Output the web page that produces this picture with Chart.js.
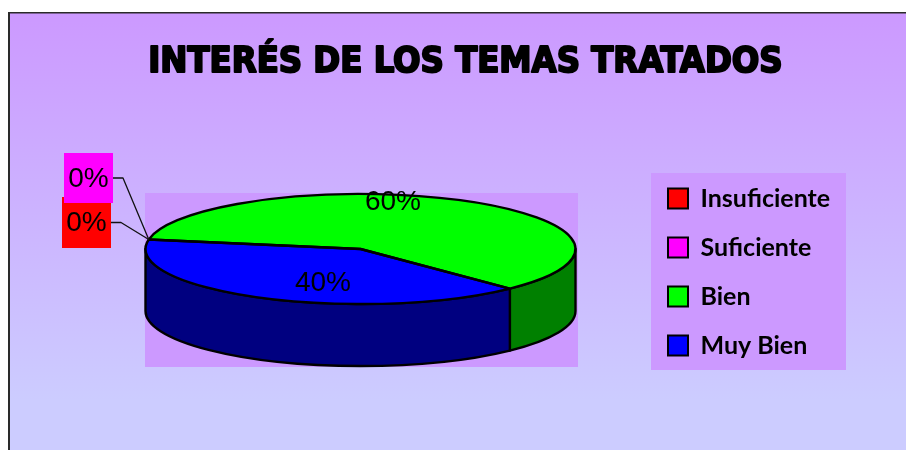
<!DOCTYPE html>
<html>
<head>
<meta charset="utf-8">
<title>Interés de los temas tratados</title>
<script src="https://cdn.jsdelivr.net/npm/chart.js@4"></script>
<style>
  html, body { margin: 0; padding: 0; background: #fff; overflow: hidden; }
  #wrap { position: absolute; left: 0; top: 0; width: 906px; height: 450px; }
</style>
</head>
<body>
<div id="wrap"><canvas id="chart" width="906" height="450"></canvas></div>
<script>
// Data
const titleText = 'INTERÉS DE LOS TEMAS TRATADOS';
const categories = ['Insuficiente', 'Suficiente', 'Bien', 'Muy Bien'];
const values = [0, 0, 60, 40];
const topColors = ['#ff0000', '#ff00ff', '#00ff00', '#0000ff'];
const sideColors = ['#800000', '#800080', '#008000', '#000080'];

// Layout of the old spreadsheet-style frame
const frame = { left: 9, top: 13 };
const plotBox = { left: 145, top: 193, right: 578, bottom: 367 };
const legendBox = { left: 651, top: 173, right: 846, bottom: 370 };
const PIE_RADIUS = 215;
const SQUASH = 55 / 215;
const DEPTH = 62;
const OUTLINE = 2.4;
const labelFont = '28px "Liberation Sans", Arial, sans-serif';
const titleFont = { family: '"DejaVu Sans Condensed", "DejaVu Sans"', size: 36, weight: 'bold' };

// where the % labels sit, per slice
const zeroTags = {
    0: { left: 62, top: 197, w: 49, h: 51, elbow: 121 },
    1: { left: 64, top: 153, w: 49, h: 50, elbow: 123 }
};
const bigLabels = { 2: { x: 393, y: 202 }, 3: { x: 323, y: 283 } };

function sideWall(ctx, arc, color) {
    const rx = arc.outerRadius, ry = rx * SQUASH;
    const cy = arc.y - DEPTH / 2;
    // only the part facing the viewer (0..PI on the canvas) shows
    for (let k = -1; k <= 2; k++) {
        const a = Math.max(arc.startAngle, k * 2 * Math.PI);
        const b = Math.min(arc.endAngle, k * 2 * Math.PI + Math.PI);
        if (a >= b) continue;
        ctx.beginPath();
        ctx.ellipse(arc.x, cy, rx, ry, 0, a, b);
        ctx.ellipse(arc.x, cy + DEPTH, rx, ry, 0, b, a, true);
        ctx.closePath();
        ctx.fillStyle = color;
        ctx.fill();
        ctx.stroke();
    }
}

const pie3d = {
    id: 'pie3d',
    afterLayout(chart) {
        // chart area follows the plot box, pie sits 1px left of its middle
        chart.chartArea = {
            left: plotBox.left - 1, top: plotBox.top, right: plotBox.right - 1, bottom: plotBox.bottom,
            width: plotBox.right - plotBox.left, height: plotBox.bottom - plotBox.top
        };
        const legend = chart.legend;
        const pad = legend.options.labels.padding;
        const w = legend.width, h = legend.height;
        legend.left = 668 - pad;
        legend.right = legend.left + w;
        legend.top = 186 - pad;
        legend.bottom = legend.top + h;
        const t = chart.titleBlock;
        t.left = 0;
        t.right = 931;
        t.top = 41;
        t.bottom = t.top + t.height;
    },
    beforeDraw(chart) {
        const ctx = chart.ctx;
        const grad = ctx.createLinearGradient(0, frame.top, 0, 400);
        grad.addColorStop(0, '#cc99ff');
        grad.addColorStop(1, '#ccccff');
        ctx.save();
        ctx.fillStyle = grad;
        ctx.fillRect(frame.left, frame.top, chart.width - frame.left, chart.height - frame.top);
        ctx.fillStyle = '#2a2a2a';
        ctx.fillRect(frame.left - 1, frame.top - 1, 2, chart.height);
        ctx.fillRect(frame.left - 1, frame.top - 1, chart.width, 1.5);
        ctx.fillStyle = '#cc99ff';
        ctx.fillRect(plotBox.left, plotBox.top, plotBox.right - plotBox.left, plotBox.bottom - plotBox.top);
        ctx.fillRect(legendBox.left, legendBox.top, legendBox.right - legendBox.left, legendBox.bottom - legendBox.top);
        ctx.restore();
    },
    beforeDatasetsDraw(chart) {
        const ctx = chart.ctx;
        const arcs = chart.getDatasetMeta(0).data;
        ctx.save();
        // fatten the title, the original face is much heavier
        const t = chart.titleBlock;
        ctx.font = `${titleFont.weight} ${titleFont.size}px ${titleFont.family}`;
        ctx.textAlign = 'center';
        ctx.textBaseline = 'middle';
        ctx.strokeStyle = '#000';
        ctx.lineWidth = 2;
        ctx.lineJoin = 'round';
        ctx.strokeText(titleText, (t.left + t.right) / 2, t.top + titleFont.size * 0.6);

        ctx.lineWidth = OUTLINE;
        arcs.forEach((arc, i) => sideWall(ctx, arc, sideColors[i]));
        ctx.restore();
    },
    beforeDatasetDraw(chart) {
        const ctx = chart.ctx;
        const arc = chart.getDatasetMeta(0).data[0];
        ctx.save();
        ctx.translate(arc.x, arc.y - DEPTH / 2);
        ctx.scale(1, SQUASH);
        ctx.translate(-arc.x, -arc.y);
    },
    afterDatasetDraw(chart) {
        chart.ctx.restore();
    },
    afterDatasetsDraw(chart) {
        const ctx = chart.ctx;
        const arcs = chart.getDatasetMeta(0).data;
        const total = values.reduce((a, b) => a + b, 0);
        ctx.save();
        ctx.strokeStyle = '#000';
        ctx.lineWidth = OUTLINE;
        ctx.lineJoin = 'round';
        arcs.forEach((arc) => {
            if (arc.endAngle - arc.startAngle <= 0) return;
            const rx = arc.outerRadius, cy = arc.y - DEPTH / 2;
            ctx.beginPath();
            ctx.moveTo(arc.x, cy);
            ctx.ellipse(arc.x, cy, rx, rx * SQUASH, 0, arc.startAngle, arc.endAngle);
            ctx.closePath();
            ctx.stroke();
        });

        ctx.font = labelFont;
        ctx.textAlign = 'center';
        ctx.textBaseline = 'middle';
        // leader lines for the empty slices
        ctx.strokeStyle = '#111';
        ctx.lineWidth = 1.3;
        values.forEach((v, i) => {
            const tag = zeroTags[i];
            if (!tag) return;
            const arc = arcs[i];
            const tipX = arc.x + arc.outerRadius * Math.cos(arc.startAngle);
            const tipY = arc.y - DEPTH / 2 + arc.outerRadius * SQUASH * Math.sin(arc.startAngle);
            const midY = tag.top + tag.h / 2;
            ctx.beginPath();
            ctx.moveTo(tag.left + tag.w, midY);
            ctx.lineTo(tag.elbow, midY);
            ctx.lineTo(tipX, tipY);
            ctx.stroke();
        });
        // tags go on top of each other, red first
        values.forEach((v, i) => {
            const text = Math.round(v / total * 100) + '%';
            const tag = zeroTags[i];
            if (tag) {
                ctx.fillStyle = topColors[i];
                ctx.fillRect(tag.left, tag.top, tag.w, tag.h);
                ctx.fillStyle = '#000';
                ctx.fillText(text, tag.left + tag.w / 2, tag.top + tag.h / 2 + 1);
            } else {
                ctx.fillStyle = '#000';
                ctx.fillText(text, bigLabels[i].x, bigLabels[i].y);
            }
        });
        ctx.restore();
    }
};

new Chart(document.getElementById('chart'), {
    type: 'pie',
    data: {
        labels: categories,
        datasets: [{
            data: values,
            backgroundColor: topColors,
            borderWidth: 0,
            radius: PIE_RADIUS,
            rotation: 280,
            clip: false
        }]
    },
    options: {
        responsive: false,
        animation: false,
        events: [],
        plugins: {
            tooltip: { enabled: false },
            title: {
                display: true,
                text: titleText,
                color: '#000',
                padding: 0,
                font: titleFont
            },
            legend: {
                position: 'right',
                align: 'start',
                labels: {
                    boxWidth: 20,
                    boxHeight: 20,
                    padding: 24,
                    color: '#000',
                    font: { family: 'Lato', size: 25, weight: 'bold' },
                    generateLabels(chart) {
                        const items = Chart.overrides.pie.plugins.legend.labels.generateLabels(chart);
                        items.forEach((it) => { it.strokeStyle = '#000'; it.lineWidth = 2; });
                        return items;
                    }
                }
            }
        }
    },
    plugins: [pie3d]
});
</script>
</body>
</html>
